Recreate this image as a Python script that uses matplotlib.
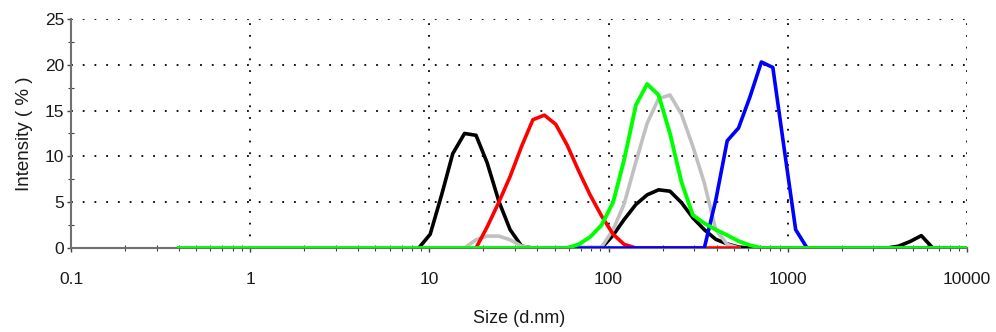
import matplotlib
matplotlib.use("Agg")
import matplotlib.pyplot as plt
from matplotlib.ticker import FixedLocator, LogLocator, NullFormatter, MultipleLocator

plt.rcParams['font.family'] = ['Liberation Sans', 'DejaVu Sans']

# size bins (d.nm) and intensity (%)
black_size = [8.72, 10.1, 11.7, 13.5, 15.7, 18.2, 21.0, 24.4, 28.2, 32.7, 37.8,
              91.3, 106, 122, 142, 164, 190, 220, 255, 295, 342, 396, 459, 531, 615,
              3580, 4150, 4800, 5560, 6440, 10000]
black_int = [0, 1.5, 5.8, 10.3, 12.5, 12.3, 9.3, 5.1, 2.0, 0.2, 0,
             0, 1.4, 3.1, 4.75, 5.8, 6.35, 6.2, 4.95, 3.3, 2.0, 0.95, 0.45, 0.1, 0,
             0, 0.2, 0.7, 1.35, 0, 0]

gray_size = [15.7, 18.2, 21.0, 24.4, 28.2, 32.7, 37.8,
             91.3, 106, 122, 142, 164, 190, 220, 255, 295, 342, 396, 459, 531]
gray_int = [0, 0.9, 1.3, 1.3, 0.9, 0.2, 0,
            0.1, 2.0, 4.8, 9.4, 13.6, 16.3, 16.7, 14.6, 11.1, 7.1, 2.0, 0.4, 0]

red_size = [18.2, 21.0, 24.4, 28.2, 32.7, 37.8, 43.8, 50.7, 58.8, 68.1, 78.8,
            91.3, 106, 122, 142, 531]
red_int = [0, 2.3, 5.0, 7.8, 11.1, 14.0, 14.5, 13.5, 11.2, 8.4, 5.8,
           3.5, 1.5, 0.4, 0, 0]

blue_size = [43.8, 342, 396, 459, 531, 615, 712, 825, 955, 1106, 1281, 10000]
blue_int = [0, 0, 5.2, 11.7, 13.1, 16.5, 20.3, 19.7, 10.8, 2.0, 0, 0]

green_size = [0.4, 58.8, 68.1, 78.8, 91.3, 106, 122, 142, 164, 190, 220, 255,
              295, 342, 396, 459, 531, 615, 712, 10000]
green_int = [0, 0, 0.4, 1.2, 2.5, 5.0, 9.6, 15.6, 17.9, 16.7, 12.5, 7.2,
             3.6, 2.7, 2.0, 1.4, 0.75, 0.3, 0, 0]

x_ticks = [0.1, 1, 10, 100, 1000, 10000]
x_labels = ['0.1', '1', '10', '100', '1000', '10000']

fig = plt.figure(figsize=(9.96, 3.32), dpi=100)
ax = fig.add_axes([0.0713, 0.253, 0.8996, 0.69])

lw = 2.6
ax.plot(black_size, black_int, color='#000000', lw=lw, zorder=3)
ax.plot(gray_size, gray_int, color='#c0c0c0', lw=lw, zorder=3)
ax.plot(red_size, red_int, color='#ff0000', lw=lw, zorder=3)
ax.plot(blue_size, blue_int, color='#0000ff', lw=lw, zorder=3)
ax.plot(green_size, green_int, color='#00ff00', lw=lw + 0.2, zorder=3)

ax.set_xscale('log')
ax.set_xlim(0.1, 10000)
ax.set_ylim(0, 25)
ax.xaxis.set_major_locator(FixedLocator(x_ticks))
ax.set_xticklabels(x_labels)
ax.xaxis.set_minor_locator(LogLocator(base=10, subs=range(2, 10), numticks=20))
ax.xaxis.set_minor_formatter(NullFormatter())
ax.yaxis.set_major_locator(MultipleLocator(5))
ax.yaxis.set_minor_locator(MultipleLocator(2.5))

grid_kw = dict(color='black', lw=1.3, linestyle=(0, (1, 5.5)), zorder=1)
for gx in x_ticks[1:]:
    ax.axvline(gx, **grid_kw)
for gy in [5, 10, 15, 20, 25]:
    ax.axhline(gy, **grid_kw)

for s in ['top', 'right']:
    ax.spines[s].set_visible(False)
for s in ['left', 'bottom']:
    ax.spines[s].set_color('#707070')
    ax.spines[s].set_linewidth(1.5)
    ax.spines[s].set_zorder(2)

ax.tick_params(axis='both', which='major', direction='out', length=3, width=1,
               color='#404040', labelsize=12.5, labelcolor='#1a1a1a')
ax.tick_params(axis='both', which='minor', direction='inout', length=4, width=0.8,
               color='#404040')
ax.tick_params(axis='x', which='major', pad=14)
ax.tick_params(axis='y', which='major', pad=2)

ax.set_xlabel('Size (d.nm)', fontsize=13, color='#1a1a1a', labelpad=17)
ax.set_ylabel('Intensity ( % )', fontsize=13.5, color='#1a1a1a', labelpad=8)

fig.savefig('out.png', dpi=100)
